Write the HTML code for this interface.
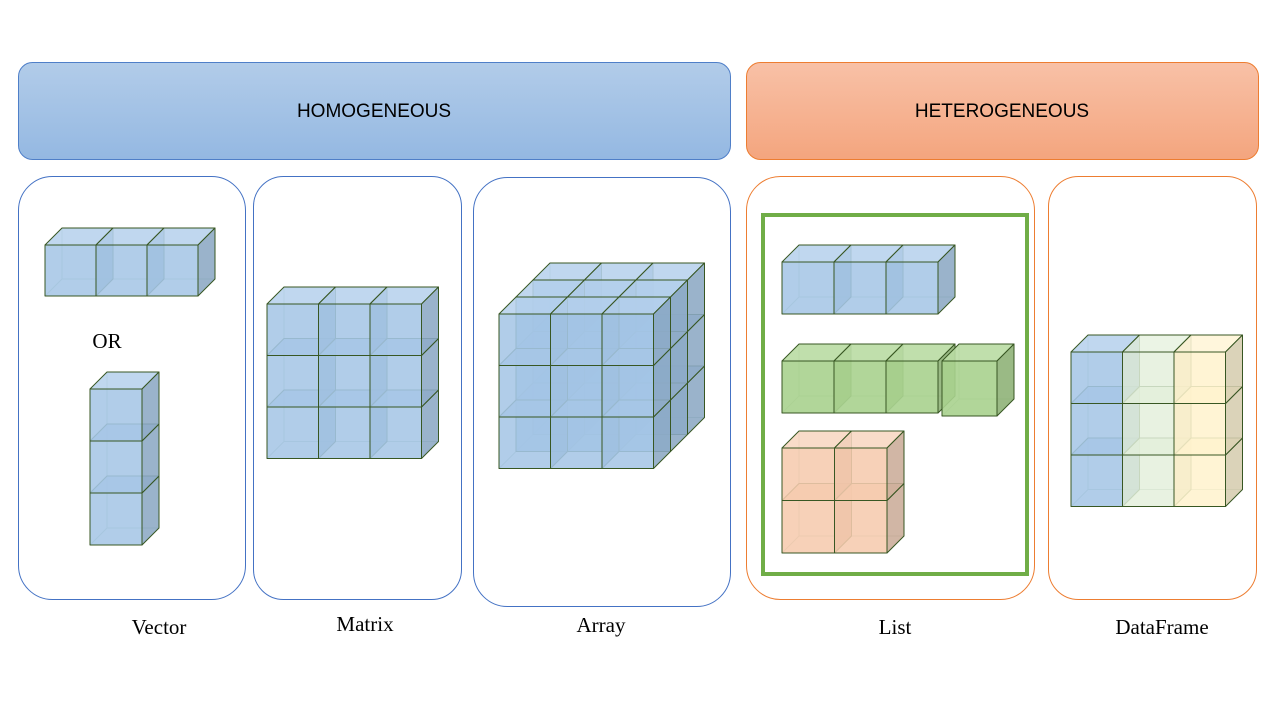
<!DOCTYPE html>
<html><head><meta charset="utf-8"><style>
body{margin:0;background:#fff;width:1280px;height:720px;overflow:hidden}
svg{display:block}
.hdr{font-family:"Liberation Sans",sans-serif;font-size:19px;fill:#000}
.lbl{font-family:"Liberation Serif",serif;font-size:21px;fill:#000}
</style></head><body>
<svg id="s" width="1280" height="720" viewBox="0 0 1280 720">
<defs>
<linearGradient id="gb" x1="0" y1="0" x2="0" y2="1"><stop offset="0" stop-color="#b2cce9"/><stop offset="1" stop-color="#94b8e2"/></linearGradient>
<linearGradient id="go" x1="0" y1="0" x2="0" y2="1"><stop offset="0" stop-color="#f8c1a7"/><stop offset="1" stop-color="#f4a57e"/></linearGradient>
</defs>
<rect x="18.5" y="62.5" width="712" height="97" rx="14" fill="url(#gb)" stroke="#4f7fc8"/>
<text class="hdr" x="374" y="117" text-anchor="middle">HOMOGENEOUS</text>
<rect x="746.5" y="62.5" width="512" height="97" rx="14" fill="url(#go)" stroke="#ed7d31"/>
<text class="hdr" x="1002" y="117" text-anchor="middle">HETEROGENEOUS</text>
<rect x="18.5" y="176.5" width="227" height="423" rx="34" fill="none" stroke="#4472c4"/>
<rect x="253.5" y="176.5" width="208" height="423" rx="30" fill="none" stroke="#4472c4"/>
<rect x="473.5" y="177.5" width="257" height="429" rx="34" fill="none" stroke="#4472c4"/>
<rect x="746.5" y="176.5" width="288" height="423" rx="34" fill="none" stroke="#ed7d31"/>
<rect x="1048.5" y="176.5" width="208" height="423" rx="30" fill="none" stroke="#ed7d31"/>
<rect x="763" y="215" width="264" height="359" fill="none" stroke="#70ad47" stroke-width="4"/>
<text class="lbl" x="107" y="348" text-anchor="middle">OR</text>
<text class="lbl" x="159" y="634" text-anchor="middle">Vector</text>
<text class="lbl" x="365" y="631" text-anchor="middle">Matrix</text>
<text class="lbl" x="601" y="632" text-anchor="middle">Array</text>
<text class="lbl" x="895" y="634" text-anchor="middle">List</text>
<text class="lbl" x="1162" y="634" text-anchor="middle">DataFrame</text>
<g id="cubes"></g>
</svg>
<script>
const NS="http://www.w3.org/2000/svg";
const G=document.getElementById('cubes');
const D=17;
const COL={
 blue:{f:'#a3c4e5',t:'#b5d0ec',s:'#88a6c2',o:0.85},
 green:{f:'#a9d18e',t:'#b9dba3',s:'#8fb378',o:0.9},
 orange:{f:'#f6c9ac',t:'#f8d6c0',s:'#c9a995',o:0.85},
 lgreen:{f:'#e2efda',t:'#e6f1df',s:'#c3cdb9',o:0.8},
 yellow:{f:'#fff2cc',t:'#fff4d6',s:'#d5cbad',o:0.85}
};
function poly(pts,fill,op,g){const p=document.createElementNS(NS,'polygon');p.setAttribute('points',pts.map(a=>a.join(',')).join(' '));p.setAttribute('fill',fill);p.setAttribute('fill-opacity',op);p.setAttribute('stroke','#385723');p.setAttribute('stroke-width','1');p.setAttribute('stroke-linejoin','round');g.appendChild(p);}
function cube(x,y,w,c,name){
 const g=document.createElementNS(NS,'g');
 
 
 const k=COL[c];
 const h=document.createElementNS(NS,'path');h.setAttribute('d',`M${x+D},${y-D+w}H${x+D+w}M${x+D},${y-D+w}L${x},${y+w}M${x+D},${y-D}V${y-D+w}`);h.setAttribute('stroke','#7d9a82');h.setAttribute('stroke-opacity','0.5');h.setAttribute('fill','none');g.appendChild(h);
 poly([[x,y],[x+D,y-D],[x+w+D,y-D],[x+w,y]],k.t,k.o,g);
 poly([[x+w,y],[x+w+D,y-D],[x+w+D,y+w-D],[x+w,y+w]],k.s,k.o,g);
 poly([[x,y],[x+w,y],[x+w,y+w],[x,y+w]],k.f,k.o,g);
 G.appendChild(g);
}
function grid2(x0,y0,cols,rows,w,cc,name){
 for(let r=rows-1;r>=0;r--)for(let c=0;c<cols;c++)cube(x0+c*w,y0+r*w,w,cc[c]||cc[0],name+'-cube-r'+r+'c'+c);
}
grid2(45,245,3,1,51,['blue'],'vector-horizontal');
grid2(90,389,1,3,52,['blue'],'vector-vertical');
grid2(267,304,3,3,51.5,['blue'],'matrix');
for(let l=2;l>=0;l--)grid2(499+17*l,314-17*l,3,3,51.5,['blue'],'array-layer'+l);
grid2(782,262,3,1,52,['blue'],'list-vector');
grid2(782,361,3,1,52,['green'],'list-green');
cube(942,361,55,'green','list-green-extra');
grid2(782,448,2,2,52.5,['orange'],'list-matrix');
grid2(1071,352,3,3,51.5,['blue','lgreen','yellow'],'dataframe');
</script>
</body></html>
